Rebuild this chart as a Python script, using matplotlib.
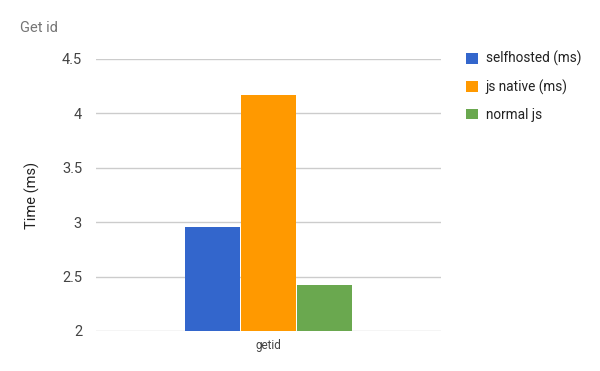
import numpy as np
from matplotlib import pyplot as plt

plt.rcParams["font.family"] = ["Roboto", "DejaVu Sans"]

categories = ["getid"]
series = ["selfhosted (ms)", "js native (ms)", "normal js"]
values = [[2.96], [4.17], [2.42]]
colors = ["#3366cc", "#ff9900", "#6aa84f"]
yticks = [2, 2.5, 3, 3.5, 4, 4.5]

fig = plt.figure(figsize=(6, 3.71), dpi=100)
ax = fig.add_axes([0.16, 0.108, 0.575, 0.733])

x = np.arange(len(categories))
w = 0.16
step = 0.1625
for i, (name, vals) in enumerate(zip(series, values)):
    ax.bar(x + (i - 1) * step, vals, w, color=colors[i], label=name, zorder=3)

ax.set_xlim(-0.5, 0.5)
ax.set_ylim(2, 4.5)
ax.set_yticks(yticks)
ax.set_yticklabels([f"{t:g}" for t in yticks])
ax.set_xticks(x)
ax.set_xticklabels(categories)
ax.grid(axis="y", color="#cccccc", linewidth=1, zorder=0)
for s in ax.spines.values():
    s.set_visible(False)
ax.tick_params(axis="y", length=0, pad=10, labelsize=10.5, labelcolor="#444444")
ax.tick_params(axis="x", length=0, pad=6, labelsize=8.5, labelcolor="#444444")
ax.set_ylabel("Time (ms)", fontsize=10.5, color="#222222", labelpad=16)

fig.text(20 / 600, 1 - 28 / 371, "Get id", fontsize=10.5, color="#757575",
         va="center", ha="left")

leg = ax.legend(loc="upper left", bbox_to_anchor=(1.037, 1.074), frameon=False,
                fontsize=9.8, labelcolor="#222222", handlelength=0.85,
                handleheight=0.85, handletextpad=0.6, labelspacing=0.95)

plt.savefig("out.png", dpi=100)
